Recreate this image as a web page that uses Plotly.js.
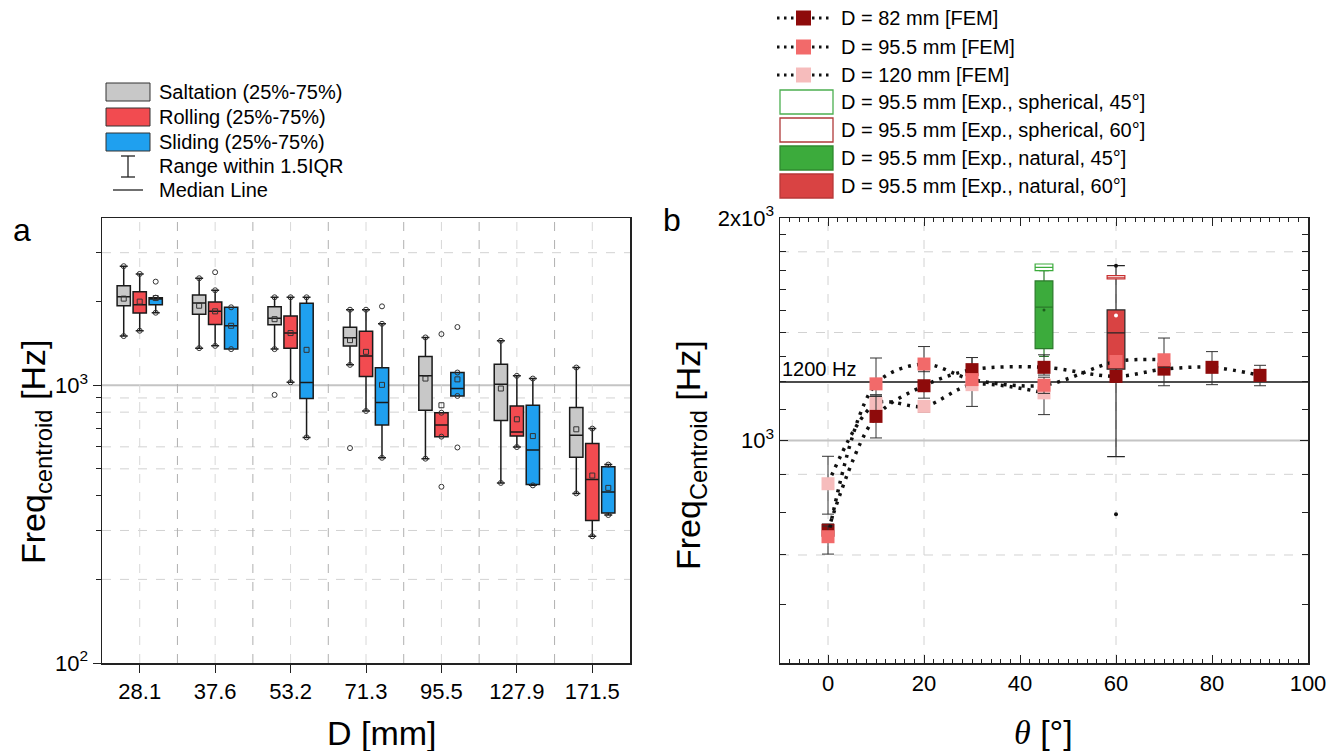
<!DOCTYPE html>
<html><head><meta charset="utf-8">
<script src="https://cdn.plot.ly/plotly-3.0.1.min.js"></script>
<style>html,body{margin:0;padding:0;background:#fff;}#chart{width:1344px;height:751px;}</style>
</head><body><div id="chart"></div>
<script>
// ---------- Panel a data ----------
const categories = ['28.1','37.6','53.2','71.3','95.5','127.9','171.5'];
const saltQ1     = [1933, 1800, 1651, 1383,  812,  747,  551];
const saltMedian = [2084, 1977, 1741, 1482, 1081, 1008,  660];
const saltQ3     = [2283, 2113, 1917, 1616, 1269, 1191,  831];
const saltLow    = [1503, 1360, 1349, 1184,  544,  445,  408];
const saltHigh   = [2683, 2427, 2073, 1870, 1486, 1445, 1158];
const saltMean   = [2050, 1933, 1729, 1453, 1057,  973,  694];
const saltOutCat = ['53.2','71.3'];
const saltOutVal = [923, 594];

const rollQ1     = [1820, 1656, 1360, 1075,  653,  656,  326];
const rollMedian = [1950, 1845, 1541, 1273,  719,  678,  458];
const rollQ3     = [2172, 1994, 1775, 1563,  796,  842,  617];
const rollLow    = [1571, 1386, 1025,  808,  653,  599,  286];
const rollHigh   = [2516, 2197, 2073, 1870,  796, 1081,  698];
const rollMean   = [2000, 1845, 1541, 1319,  847,  754,  473];
const rollOutCat = ['37.6','95.5','95.5'];
const rollOutVal = [2552, 1528, 431];

const slidQ1     = [1950, 1349,  895,  719,  915,  439,  347];
const slidMedian = [2045, 1637, 1022,  866,  973,  584,  413];
const slidQ3     = [2066, 1908, 1972, 1155, 1111,  847,  509];
const slidLow    = [1824, 1349,  649,  548,  915,  436,  341];
const slidHigh   = [2066, 1908, 2073, 1664, 1111, 1057,  518];
const slidMean   = [2060, 1637, 1341, 1003, 1050,  656,  427];
const slidOutCat = ['28.1','71.3','95.5','95.5'];
const slidOutVal = [2360, 1923, 1620, 597];

const legendA = ['Saltation (25%-75%)','Rolling (25%-75%)','Sliding (25%-75%)','Range within 1.5IQR','Median Line'];

// ---------- Panel b data ----------
const fem82Theta = [0, 10, 20, 30, 45, 60, 70, 80, 90];
const fem82Freq  = [756, 1078, 1186, 1247, 1256, 1221, 1249, 1256, 1225];
const fem82Up    = [15, 69, 61, 48, 50, 20, 30, 63, 39];
const fem82Down  = [15, 70, 45, 45, 30, 20, 63, 66, 39];

const fem955Theta = [0, 10, 20, 30, 45, 60, 70];
const fem955Freq  = [741, 1193, 1269, 1209, 1188, 1279, 1286];
const fem955Up    = [25, 100, 71, 15, 30, 20, 90];
const fem955Down  = [39, 40, 30, 15, 30, 20, 30];

const fem120Theta = [0, 10, 20, 30, 45];
const fem120Freq  = [874, 1122, 1112, 1190, 1160];
const fem120Up    = [78, 30, 18, 105, 40];
const fem120Down  = [79, 40, 20, 78, 76];

// experiments: spherical 45°, spherical 60°, natural 45°, natural 60°
const expTheta = [45, 60, 45, 60];
const expNames = ['D = 95.5 mm [Exp., spherical, 45°]','D = 95.5 mm [Exp., spherical, 60°]','D = 95.5 mm [Exp., natural, 45°]','D = 95.5 mm [Exp., natural, 60°]'];
const sph45Stats = {q1: 1698, median: 1715, q3: 1733, lo: 1698, hi: 1733};
const sph60Stats = {q1: 1655, median: 1663, q3: 1672, lo: 1655, hi: 1672};
const nat45Stats = {q1: 1331, median: 1515, q3: 1644, lo: 1300, hi: 1698, mean: 1502};
const nat60Stats = {q1: 1249, median: 1398, q3: 1502, lo: 951, hi: 1724, mean: 1476, outlier: 795};
const femNames = ['D = 82 mm [FEM]','D = 95.5 mm [FEM]','D = 120 mm [FEM]'];
const refLine = 1200;

// ---------- helpers ----------
const W = 1344, H = 751;
const px = x => x / W, py = y => 1 - y / H;
const FONT = '"Liberation Sans", Arial, sans-serif';
const C_GRAY = '#c8c8c8', C_RED = '#f24b50', C_BLUE = '#1fa0ef';
const C_DARK = '#8e0b0b', C_SALMON = '#f26a6a', C_PINK = '#f6bcbc';
const C_GREEN = '#3cab3c', C_NATRED = '#d94343';
const OFF = 0.212, BW = 0.176;

function pos(offset){ return categories.map((c,i)=> i + offset); }
function boxA(q1, med, q3, lo, hi, offset, fill){
  return {type:'box', x: pos(offset), q1: q1, median: med, q3: q3, lowerfence: lo, upperfence: hi,
    width: BW, whiskerwidth: 0.6, fillcolor: fill, line:{color:'#1a1a1a', width:1.5},
    boxpoints:false, showlegend:false, hoverinfo:'skip', xaxis:'x', yaxis:'y'};
}
function pts(x, y, symbol, size){
  return {type:'scatter', mode:'markers', x:x, y:y, showlegend:false, hoverinfo:'skip', xaxis:'x', yaxis:'y',
    marker:{symbol:symbol, size:size, color:'#333', line:{width:1, color:'#333'}}};
}
function outPos(cats, offset){ return cats.map(c => categories.indexOf(c) + offset); }

const traces = [];
traces.push(boxA(saltQ1, saltMedian, saltQ3, saltLow, saltHigh, -OFF, C_GRAY));
traces.push(boxA(rollQ1, rollMedian, rollQ3, rollLow, rollHigh, 0, C_RED));
traces.push(boxA(slidQ1, slidMedian, slidQ3, slidLow, slidHigh, OFF, C_BLUE));

// panel b boxes
function boxB(st, x, fill, lineColor, ww){
  return {type:'box', x:[x], q1:[st.q1], median:[st.median], q3:[st.q3], lowerfence:[st.lo], upperfence:[st.hi],
    width: 3.7, whiskerwidth: ww, fillcolor: fill, line:{color: lineColor, width:1.2},
    boxpoints:false, showlegend:false, hoverinfo:'skip', xaxis:'x2', yaxis:'y2'};
}
traces.push(boxB(nat45Stats, expTheta[2], C_GREEN, '#2a7a2a', 0.55));
traces.push(boxB(sph45Stats, expTheta[0], '#ffffff', '#3cab3c', 1));
traces.push(boxB(nat60Stats, expTheta[3], C_NATRED, '#262626', 1));
traces.push(boxB(sph60Stats, expTheta[1], '#ffffff', '#c83030', 1));

// panel a markers
[[saltMean,-OFF],[rollMean,0],[slidMean,OFF]].forEach(([m,o]) => traces.push(pts(pos(o), m, 'square-open', 5)));
[[saltLow,saltHigh,-OFF],[rollLow,rollHigh,0],[slidLow,slidHigh,OFF]].forEach(([lo,hi,o]) => {
  const p = pos(o);
  traces.push(pts(p.concat(p), lo.concat(hi), 'circle-open', 5));
});
traces.push(pts(outPos(saltOutCat,-OFF), saltOutVal, 'circle-open', 5));
traces.push(pts(outPos(rollOutCat,0), rollOutVal, 'circle-open', 5));
traces.push(pts(outPos(slidOutCat,OFF), slidOutVal, 'circle-open', 5));

// panel b exp markers
traces.push({type:'scatter', mode:'markers', x:[expTheta[2]], y:[nat45Stats.mean], marker:{size:3, color:'#1d5e1d'}, showlegend:false, hoverinfo:'skip', xaxis:'x2', yaxis:'y2'});
traces.push({type:'scatter', mode:'markers', x:[expTheta[3]], y:[nat60Stats.mean], marker:{size:4, color:'#ffffff'}, showlegend:false, hoverinfo:'skip', xaxis:'x2', yaxis:'y2'});
traces.push({type:'scatter', mode:'markers', x:[expTheta[3], expTheta[3]], y:[nat60Stats.outlier, nat60Stats.hi], marker:{size:4, color:'#111'}, showlegend:false, hoverinfo:'skip', xaxis:'x2', yaxis:'y2'});

// FEM series
function fem(th, fr, up, dn, color){
  return {type:'scatter', mode:'lines+markers', x:th, y:fr, showlegend:false, hoverinfo:'skip', xaxis:'x2', yaxis:'y2',
    line:{color:'#111', width:3.5, dash:'3px,6px', shape:'spline', smoothing:0.9},
    marker:{symbol:'square', size:13, color:color},
    error_y:{type:'data', symmetric:false, array:up, arrayminus:dn, color:'#333', thickness:1, width:6}};
}
traces.push(fem(fem120Theta, fem120Freq, fem120Up, fem120Down, C_PINK));
traces.push(fem(fem82Theta, fem82Freq, fem82Up, fem82Down, C_DARK));
traces.push(fem(fem955Theta, fem955Freq, fem955Up, fem955Down, C_SALMON));

// ---------- shapes (grids, legends) ----------
const shapes = [];
const dashA = [200, 300, 500, 600, 800, 900, 3000];
dashA.forEach(v => shapes.push({type:'line', xref:'x domain', x0:0, x1:1, yref:'y', y0:v, y1:v, layer:'below', line:{color:'#d2d2d2', width:1, dash:'dash'}}));
shapes.push({type:'line', xref:'x domain', x0:0, x1:1, yref:'y', y0:1000, y1:1000, layer:'below', line:{color:'#c4c4c4', width:2}});
categories.forEach((c,i) => {
  shapes.push({type:'line', xref:'x', x0:i, x1:i, yref:'y domain', y0:0, y1:1, layer:'below', line:{color:'#d8d8d8', width:1, dash:'dash'}});
  if (i < categories.length - 1)
    shapes.push({type:'line', xref:'x', x0:i+0.5, x1:i+0.5, yref:'y domain', y0:0, y1:1, layer:'below', line:{color:'#b0b0b0', width:1, dash:'dash'}});
});
const dashB = [700, 900, 1400, 1800];
dashB.forEach(v => shapes.push({type:'line', xref:'x2 domain', x0:0, x1:1, yref:'y2', y0:v, y1:v, layer:'below', line:{color:'#d2d2d2', width:1, dash:'dash'}}));
[0, 20, 60].forEach(v => shapes.push({type:'line', xref:'x2', x0:v, x1:v, yref:'y2 domain', y0:0, y1:1, layer:'below', line:{color:'#d2d2d2', width:1, dash:'dash'}}));
shapes.push({type:'line', xref:'x2 domain', x0:0, x1:1, yref:'y2', y0:1000, y1:1000, layer:'below', line:{color:'#c4c4c4', width:2}});
shapes.push({type:'line', xref:'x2 domain', x0:0, x1:1, yref:'y2', y0:refLine, y1:refLine, layer:'below', line:{color:'#111', width:1.5}});

// legend a
const rowA = [92, 117, 142, 166, 190];
[C_GRAY, C_RED, C_BLUE].forEach((c,i) => shapes.push({type:'rect', xref:'paper', yref:'paper', x0:px(106), x1:px(150), y0:py(rowA[i]-9), y1:py(rowA[i]+9), fillcolor:c, line:{color:'#333', width:1}}));
shapes.push({type:'line', xref:'paper', yref:'paper', x0:px(128), x1:px(128), y0:py(156), y1:py(177), line:{color:'#222', width:1.3}});
shapes.push({type:'line', xref:'paper', yref:'paper', x0:px(121), x1:px(135), y0:py(156), y1:py(156), line:{color:'#222', width:1.3}});
shapes.push({type:'line', xref:'paper', yref:'paper', x0:px(121), x1:px(135), y0:py(177), y1:py(177), line:{color:'#222', width:1.3}});
shapes.push({type:'line', xref:'paper', yref:'paper', x0:px(113), x1:px(143), y0:py(190), y1:py(190), line:{color:'#222', width:1.3}});

// legend b
const rowB = [18, 47, 75, 102, 130, 158, 186];
[C_DARK, C_SALMON, C_PINK].forEach((c,i) => {
  shapes.push({type:'line', xref:'paper', yref:'paper', x0:px(777), x1:px(832), y0:py(rowB[i]), y1:py(rowB[i]), line:{color:'#111', width:3, dash:'2.5px,4.5px'}});
  shapes.push({type:'rect', xref:'paper', yref:'paper', x0:px(796), x1:px(811), y0:py(rowB[i]-7.5), y1:py(rowB[i]+7.5), fillcolor:c, line:{width:0}});
});
[['#ffffff','#4caf50'],['#ffffff','#b03a3a'],[C_GREEN,'#2f8a2f'],[C_NATRED,'#b83838']].forEach(([f,l],i) => {
  const r = rowB[i+3];
  shapes.push({type:'rect', xref:'paper', yref:'paper', x0:px(780), x1:px(833), y0:py(r-12), y1:py(r+12), fillcolor:f, line:{color:l, width:1.3}});
});

// ---------- annotations ----------
const ann = [];
function txt(text, x, y, size, opts){
  return Object.assign({text:text, xref:'paper', yref:'paper', x:px(x), y:py(y), showarrow:false, xanchor:'left', yanchor:'middle', font:{family:FONT, size:size, color:'#000'}}, opts||{});
}
legendA.forEach((t,i) => ann.push(txt(t, 157, rowA[i], 20)));
femNames.concat(expNames).forEach((t,i) => ann.push(txt(t, 839, rowB[i], 20)));
ann.push(txt('a', 22, 230, 32, {xanchor:'center'}));
ann.push(txt('b', 672, 220, 32, {xanchor:'center'}));
ann.push(txt('Freq<sub>centroid</sub> [Hz]', 36, 452, 34, {xanchor:'center', textangle:-90}));
ann.push(txt('Freq<sub>Centroid</sub> [Hz]', 690, 455, 34, {xanchor:'center', textangle:-90}));
ann.push(txt('D [mm]', 382, 733, 34, {xanchor:'center'}));
ann.push(txt('<span style="font-family:\'Liberation Serif\',serif;font-style:italic">θ</span> [°]', 1043, 732, 34, {xanchor:'center'}));
ann.push({text:'1200 Hz', xref:'x2', yref:'y2', x:-10, y:Math.log10(refLine), xanchor:'left', yanchor:'bottom', showarrow:false, font:{family:FONT, size:20, color:'#000'}});

const tickFont = {family:FONT, size:22, color:'#000'};
const layout = {
  width:W, height:H, margin:{l:0, r:0, t:0, b:0}, paper_bgcolor:'#fff', plot_bgcolor:'rgba(0,0,0,0)',
  showlegend:false, boxmode:'overlay', font:{family:FONT},
  xaxis:{domain:[px(102), px(630)], range:[-0.5, 6.5], tickmode:'array', tickvals:categories.map((c,i)=>i), ticktext:categories,
    ticks:'outside', ticklen:8, tickcolor:'#222', tickfont:tickFont, showgrid:false, zeroline:false,
    showline:true, linecolor:'#222', linewidth:1.5, mirror:true, anchor:'y'},
  yaxis:{domain:[py(663), py(218)], type:'log', range:[2, Math.log10(4000)], tickmode:'array', tickvals:[100, 1000],
    ticktext:['10<sup>2</sup>','10<sup>3</sup>'], ticks:'outside', ticklen:8, tickcolor:'#222', tickfont:tickFont,
    minor:{tickmode:'array', tickvals:[200,300,400,500,600,700,800,900,2000,3000], ticks:'outside', ticklen:5, tickcolor:'#222', showgrid:false},
    showgrid:false, zeroline:false, showline:true, linecolor:'#222', linewidth:1.5, mirror:true, anchor:'x'},
  xaxis2:{domain:[px(780), px(1308)], range:[-10, 100], tickmode:'array', tickvals:[0,20,40,60,80,100],
    ticks:'inside', ticklen:8, tickcolor:'#222', tickfont:tickFont,
    minor:{dtick:2, tick0:0, ticks:'inside', ticklen:4, tickcolor:'#222', showgrid:false},
    showgrid:false, zeroline:false, showline:true, linecolor:'#222', linewidth:1.5, mirror:'ticks', anchor:'y2'},
  yaxis2:{domain:[py(663), py(218)], type:'log', range:[Math.log10(500), Math.log10(2000)], tickmode:'array', tickvals:[1000, 2000],
    ticktext:['10<sup>3</sup>','2x10<sup>3</sup>'], ticks:'inside', ticklen:8, tickcolor:'#222', tickfont:tickFont,
    minor:{tickmode:'array', tickvals:[600,700,800,900,1100,1200,1300,1400,1500,1600,1700,1800,1900], ticks:'inside', ticklen:6, tickcolor:'#222', showgrid:false},
    showgrid:false, zeroline:false, showline:true, linecolor:'#222', linewidth:1.5, mirror:'ticks', anchor:'x2'},
  shapes:shapes, annotations:ann
};
Plotly.newPlot('chart', traces, layout, {displayModeBar:false, staticPlot:true});
</script></body></html>
